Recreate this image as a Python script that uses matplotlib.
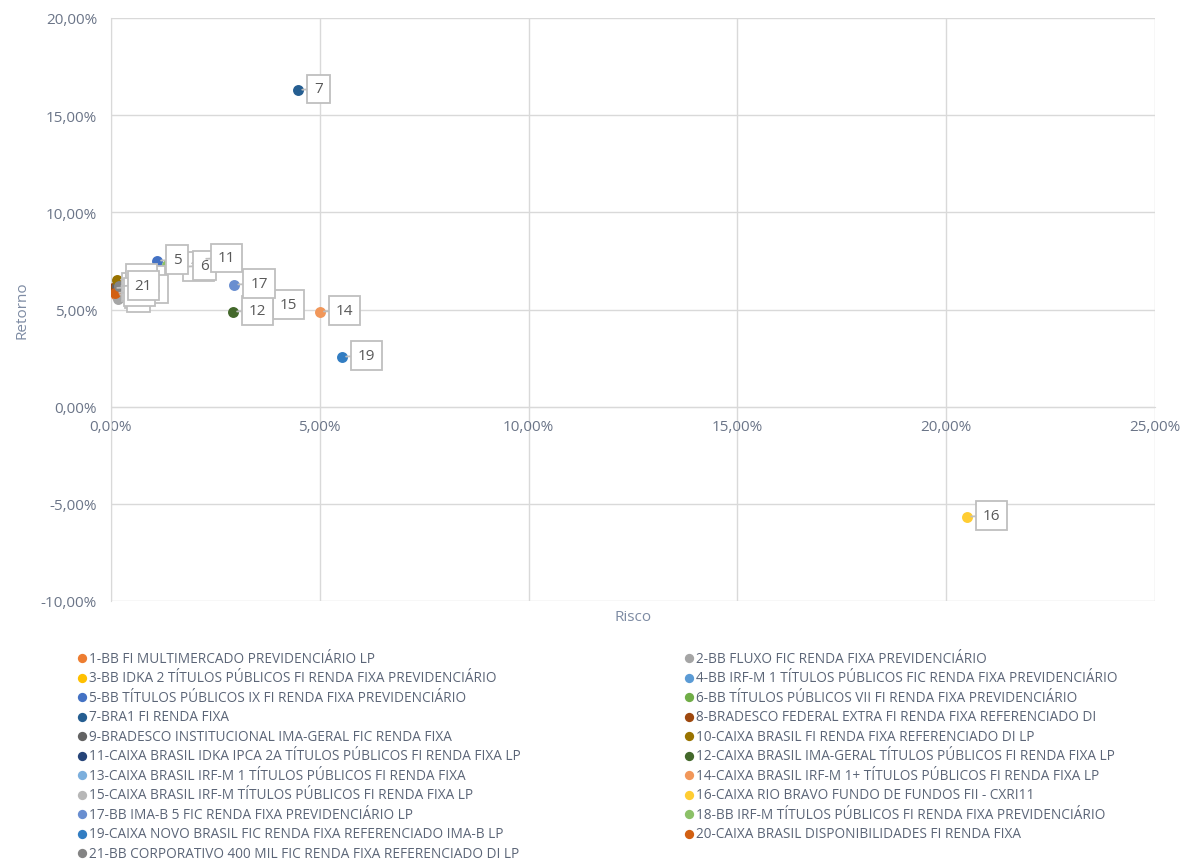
import matplotlib
matplotlib.use("Agg")
import matplotlib.pyplot as plt
from matplotlib.ticker import FuncFormatter, MultipleLocator

plt.rcParams["font.family"] = ["Open Sans", "DejaVu Sans"]

# fund names (legend), risk and return in %
names = [
    "1-BB FI MULTIMERCADO PREVIDENCIÁRIO LP",
    "2-BB FLUXO FIC RENDA FIXA PREVIDENCIÁRIO",
    "3-BB IDKA 2 TÍTULOS PÚBLICOS FI RENDA FIXA PREVIDENCIÁRIO",
    "4-BB IRF-M 1 TÍTULOS PÚBLICOS FIC RENDA FIXA PREVIDENCIÁRIO",
    "5-BB TÍTULOS PÚBLICOS IX FI RENDA FIXA PREVIDENCIÁRIO",
    "6-BB TÍTULOS PÚBLICOS VII FI RENDA FIXA PREVIDENCIÁRIO",
    "7-BRA1 FI RENDA FIXA",
    "8-BRADESCO FEDERAL EXTRA FI RENDA FIXA REFERENCIADO DI",
    "9-BRADESCO INSTITUCIONAL IMA-GERAL FIC RENDA FIXA",
    "10-CAIXA BRASIL FI RENDA FIXA REFERENCIADO DI LP",
    "11-CAIXA BRASIL IDKA IPCA 2A TÍTULOS PÚBLICOS FI RENDA FIXA LP",
    "12-CAIXA BRASIL IMA-GERAL TÍTULOS PÚBLICOS FI RENDA FIXA LP",
    "13-CAIXA BRASIL IRF-M 1 TÍTULOS PÚBLICOS FI RENDA FIXA",
    "14-CAIXA BRASIL IRF-M 1+ TÍTULOS PÚBLICOS FI RENDA FIXA LP",
    "15-CAIXA BRASIL IRF-M TÍTULOS PÚBLICOS FI RENDA FIXA LP",
    "16-CAIXA RIO BRAVO FUNDO DE FUNDOS FII - CXRI11",
    "17-BB IMA-B 5 FIC RENDA FIXA PREVIDENCIÁRIO LP",
    "18-BB IRF-M TÍTULOS PÚBLICOS FI RENDA FIXA PREVIDENCIÁRIO",
    "19-CAIXA NOVO BRASIL FIC RENDA FIXA REFERENCIADO IMA-B LP",
    "20-CAIXA BRASIL DISPONIBILIDADES FI RENDA FIXA",
    "21-BB CORPORATIVO 400 MIL FIC RENDA FIXA REFERENCIADO DI LP",
]
risco = [0.12, 0.17, 0.55, 0.35, 1.10, 1.75, 4.48, 0.05, 0.15, 0.14, 2.18,
         2.92, 0.40, 5.00, 3.45, 20.50, 2.95, 1.35, 5.53, 0.10, 0.18]
retorno = [5.75, 5.55, 6.45, 6.30, 7.51, 7.20, 16.30, 6.10, 6.20, 6.53, 7.60,
           4.89, 6.00, 4.89, 4.90, -5.66, 6.28, 7.30, 2.57, 5.85, 6.20]

colors = ["#ED7D31", "#A5A5A5", "#FFC000", "#5B9BD5", "#4472C4", "#70AD47",
          "#255E91", "#9E480E", "#636363", "#997300", "#264478", "#43682B",
          "#7CAFDD", "#F1975A", "#B7B7B7", "#FFCD33", "#698ED0", "#8CC168",
          "#327DC2", "#D26012", "#848484"]

# label offsets in pixels (Excel moved a few to avoid overlap)
offsets = {15: (25, 7), 18: (22, -2)}
label_under = {18, 15}

fig = plt.figure(figsize=(11.84, 8.62), dpi=100)
ax = fig.add_axes([111 / 1184, 1 - 602 / 862, 1044 / 1184, 583 / 862])

grid_c = "#d9d9d9"
txt_c = "#6b7588"

handles = []
for x, y, c in zip(risco, retorno, colors):
    h = ax.scatter(x, y, s=62, color=c, zorder=3, linewidths=0)
    handles.append(h)

for i, (x, y) in enumerate(zip(risco, retorno)):
    n = i + 1
    dx, dy = offsets.get(n, (16, 1))
    ax.annotate(str(n), (x, y), xytext=(dx, dy), textcoords="offset pixels",
                ha="left", va="center", fontsize=11, color="#595959",
                bbox=dict(boxstyle="square,pad=0.45", fc="white", ec="#bfbfbf", lw=1.3),
                arrowprops=dict(arrowstyle="-", color="#bfbfbf", lw=1.3,
                                shrinkA=0, shrinkB=3),
                zorder=3.5 if n in label_under else 4 + i * 0.01)

ax.set_xlim(0, 25)
ax.set_ylim(-10, 20)
ax.xaxis.set_major_locator(MultipleLocator(5))
ax.yaxis.set_major_locator(MultipleLocator(5))
fmt = FuncFormatter(lambda v, p: f"{v:.2f}%".replace(".", ","))
ax.xaxis.set_major_formatter(fmt)
ax.yaxis.set_major_formatter(fmt)
ax.grid(True, color=grid_c, lw=1)
ax.set_axisbelow(True)
for s in ("top", "right"):
    ax.spines[s].set_visible(False)
ax.spines["bottom"].set_position(("data", 0))
for s in ("bottom", "left"):
    ax.spines[s].set_color(grid_c)
ax.tick_params(length=0, labelsize=11, colors=txt_c, pad=10)
ax.tick_params(axis="x", pad=9)

fig.text(633 / 1184, 1 - 618 / 862, "Risco", ha="center", va="center",
         fontsize=11, color="#7d8ba3")
fig.text(22 / 1184, 1 - 310 / 862, "Retorno", ha="center", va="center",
         rotation=90, fontsize=11, color="#7d8ba3")

leg_kw = dict(loc="upper left", frameon=False, fontsize=9.8, handletextpad=0.05,
              handlelength=1.0, labelspacing=0.33, markerscale=0.85,
              labelcolor="#5b6577", borderpad=0)
odd = list(range(0, 21, 2))
even = list(range(1, 21, 2))
fig.legend([handles[i] for i in odd], [names[i] for i in odd],
           bbox_to_anchor=(68 / 1184, 1 - 645 / 862), **leg_kw)
fig.legend([handles[i] for i in even], [names[i] for i in even],
           bbox_to_anchor=(675 / 1184, 1 - 645 / 862), **leg_kw)

fig.savefig("out.png", dpi=100)
